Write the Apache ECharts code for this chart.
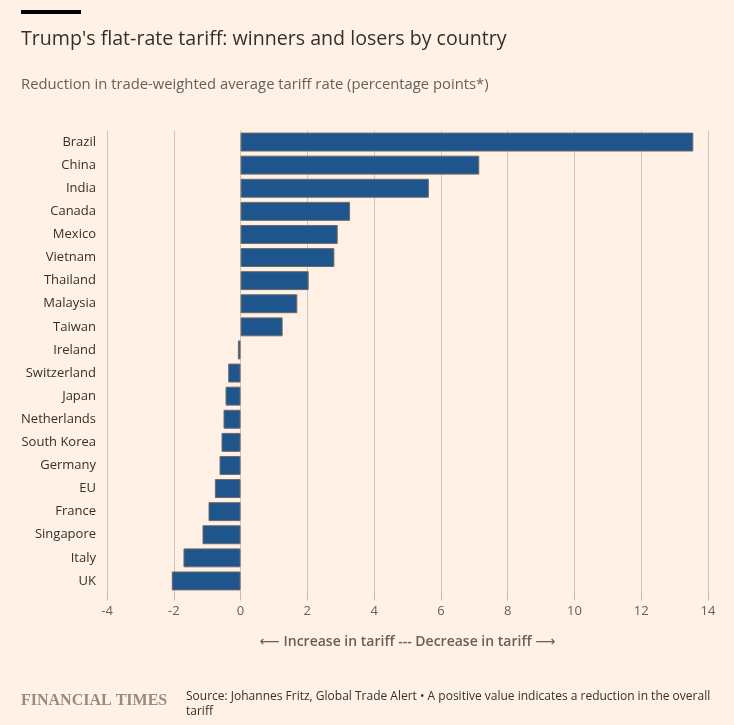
<!DOCTYPE html>
<html>
<head>
<meta charset="utf-8">
<style>
  html, body { margin: 0; padding: 0; background: #fff1e5; }
  #chart { width: 734px; height: 725px; }
</style>
<script src="https://cdn.jsdelivr.net/npm/echarts@6/dist/echarts.min.js"></script>
</head>
<body>
<div id="chart"></div>
<script>
// countries, top to bottom as in the chart
var countries = ['Brazil', 'China', 'India', 'Canada', 'Mexico', 'Vietnam', 'Thailand',
  'Malaysia', 'Taiwan', 'Ireland', 'Switzerland', 'Japan', 'Netherlands', 'South Korea',
  'Germany', 'EU', 'France', 'Singapore', 'Italy', 'UK'];
// reduction in trade-weighted average tariff rate (pp)
var reduction = [13.56, 7.15, 5.64, 3.28, 2.91, 2.81, 2.04, 1.70, 1.26, -0.08, -0.37,
  -0.45, -0.51, -0.57, -0.63, -0.77, -0.96, -1.14, -1.71, -2.06];
var xTicks = [-4, -2, 0, 2, 4, 6, 8, 10, 12, 14];

var font = '"Open Sans", sans-serif';
var chart = echarts.init(document.getElementById('chart'));

var option = {
  backgroundColor: '#fff1e5',
  animation: false,
  title: [{
    text: "Trump's flat-rate tariff: winners and losers by country",
    left: 16, top: 24,
    textStyle: { fontFamily: font, fontSize: 19.6, fontWeight: 'normal', color: '#33302e' }
  }, {
    text: 'Reduction in trade-weighted average tariff rate (percentage points*)',
    left: 16, top: 72,
    textStyle: { fontFamily: font, fontSize: 14.8, fontWeight: 'normal', color: '#66605c' }
  }],
  graphic: [{
    type: 'rect', left: 21, top: 10,
    shape: { width: 60, height: 4 },
    style: { fill: '#000' }
  }, {
    type: 'text', left: 21, top: 693,
    style: { text: 'FINANCIAL TIMES', font: 'bold 16px "Liberation Serif", serif', fill: '#958b83' }
  }, {
    type: 'text', left: 186, top: 689,
    style: {
      text: 'Source: Johannes Fritz, Global Trade Alert \u2022 A positive value indicates a reduction in the overall tariff',
      width: 535, overflow: 'break', lineHeight: 15,
      font: '12px ' + font, fill: '#33302e'
    }
  }],
  grid: { left: 107, right: 26, top: 130.5, bottom: 132.5, containLabel: false },
  xAxis: {
    type: 'value',
    min: -4, max: 14, interval: 2,
    name: '{a|\u27f5} Increase in tariff --- Decrease in tariff {a|\u27f6}',
    nameLocation: 'middle', nameGap: 43,
    nameTextStyle: {
      fontFamily: font, fontSize: 14, fontWeight: 600, color: '#66605c',
      rich: { a: { fontFamily: '"DejaVu Sans", sans-serif', fontSize: 14, fontWeight: 'normal', color: '#66605c' } }
    },
    axisLine: { show: false },
    axisTick: { show: true, length: 8, lineStyle: { color: '#c2b8ae' } },
    axisLabel: {
      fontFamily: font, fontSize: 13, color: '#66605c', margin: 12,
      formatter: function (v) { return xTicks.indexOf(v) >= 0 ? String(v) : ''; }
    },
    splitLine: { show: true, lineStyle: { color: '#cec6bd', width: 1 } }
  },
  yAxis: {
    type: 'category',
    data: countries,
    inverse: true,
    axisLine: { show: false },
    axisTick: { show: false },
    axisLabel: { fontFamily: font, fontSize: 13, color: '#33302e', margin: 11 },
    splitLine: { show: false }
  },
  series: [{
    type: 'bar',
    data: reduction,
    barCategoryGap: '18%',
    itemStyle: { color: '#1f558d', borderColor: '#6f6a66', borderWidth: 1 }
  }]
};
chart.setOption(option);
</script>
</body>
</html>
